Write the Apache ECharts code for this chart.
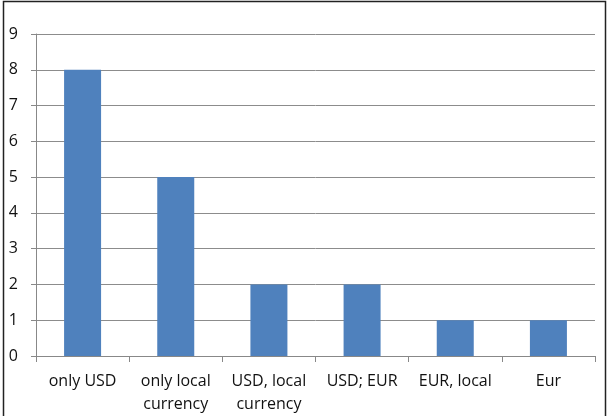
<!DOCTYPE html>
<html>
<head>
<meta charset="utf-8">
<script src="https://cdn.jsdelivr.net/npm/echarts@6/dist/echarts.min.js"></script>
<style>
  html, body { margin: 0; padding: 0; background: #fff; }
  #chart { width: 610px; height: 416px; }
</style>
</head>
<body>
<div id="chart"></div>
<script>
  // categories and counts
  const categories = ['only USD', 'only local\ncurrency', 'USD, local\ncurrency', 'USD; EUR', 'EUR, local', 'Eur'];
  const counts = [8, 5, 2, 2, 1, 1];
  const yTicks = { min: 0, max: 9, interval: 1 };

  const chart = echarts.init(document.getElementById('chart'));
  const option = {
    animation: false,
    backgroundColor: '#fff',
    textStyle: { fontFamily: 'Open Sans' },
    graphic: [
      {
        type: 'rect',
        shape: { x: 3.5, y: 1.5, width: 602, height: 430 },
        style: { fill: 'none', stroke: '#222', lineWidth: 1.5 }
      }
    ],
    grid: { left: 36, right: 15, top: 34, bottom: 59.5 },
    xAxis: {
      type: 'category',
      data: categories,
      axisLine: { lineStyle: { color: '#888', width: 1 } },
      axisTick: { show: true, length: 6, lineStyle: { color: '#888' } },
      axisLabel: {
        color: '#111',
        fontSize: 16,
        lineHeight: 23,
        margin: 14,
        interval: 0
      }
    },
    yAxis: {
      type: 'value',
      min: yTicks.min,
      max: yTicks.max,
      interval: yTicks.interval,
      axisLine: { show: true, lineStyle: { color: '#888', width: 1 } },
      axisTick: { show: true, length: 5, lineStyle: { color: '#888' } },
      splitLine: { lineStyle: { color: '#8c8c8c', width: 1 } },
      axisLabel: { color: '#111', fontSize: 16, margin: 18 }
    },
    series: [
      {
        type: 'bar',
        data: counts,
        barWidth: 37,
        itemStyle: { color: '#4f81bd' }
      }
    ]
  };
  chart.setOption(option);
</script>
</body>
</html>
